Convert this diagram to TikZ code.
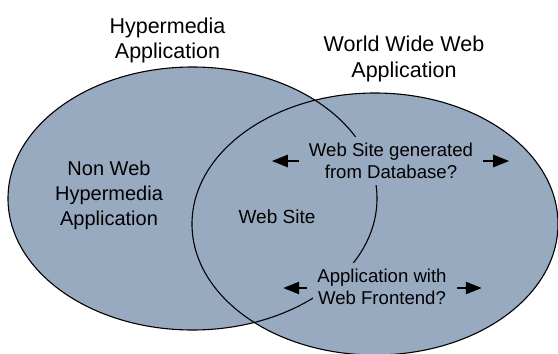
\documentclass[tikz,border=0pt]{standalone}
\usepackage{fontspec}
\setmainfont{Liberation Sans}
\usetikzlibrary{arrows.meta}
\definecolor{setfill}{RGB}{152,170,191}

\tikzset{
  setarea/.style={fill=setfill},
  setline/.style={draw=black, line width=1.1pt},
  title/.style={align=center, font=\fontsize{21.5}{25.2}\selectfont},
  inside/.style={align=center, font=\fontsize{20}{25}\selectfont},
  boxed/.style={align=center, fill=setfill, inner xsep=4pt, inner ysep=6pt,
    font=\fontsize{18.6}{21.5}\selectfont},
  moveto/.style={line width=2.5pt, -{Triangle[length=16pt,width=12pt]}}
}

\begin{document}
\begin{tikzpicture}[x=1pt,y=-1pt]
\useasboundingbox (0,0) rectangle (558,354);

% the two sets: fills first, so both outlines stay visible
\fill[setarea] (192.5,198.5) ellipse [x radius=184.5pt, y radius=131.5pt];
\fill[setarea] (375,224) ellipse [x radius=183pt, y radius=131pt];
\draw[setline] (192.5,198.5) ellipse [x radius=184.5pt, y radius=131.5pt];
\draw[setline] (375,224) ellipse [x radius=183pt, y radius=131pt];

% set titles
\node[title] (hyptitle) at (167.5,40.5) {Hypermedia\\Application};
\node[title] (wwwtitle) at (404,59) {World Wide Web\\Application};

% region labels
\node[inside] (nonweb) at (109,195.5) {Non Web\\Hypermedia\\Application};
\node[inside, font=\fontsize{19}{23}\selectfont] (website) at (277,217) {Web Site};

% border cases, masking the outline behind them
\node[boxed] (gendb) at (391,161) {Web Site generated\\from Database?};
\node[boxed] (frontend) at (382,287) {Application with\\Web Frontend?};

% arrow ends
\coordinate (gendbLtail) at ([xshift=-6pt]gendb.west);
\coordinate (gendbLtip)  at ([xshift=-33pt]gendb.west);
\coordinate (gendbRtail) at ([xshift=6pt]gendb.east);
\coordinate (gendbRtip)  at ([xshift=32pt]gendb.east);
\coordinate (frontLtail) at ([xshift=-6pt,yshift=-1pt]frontend.west);
\coordinate (frontLtip)  at ([xshift=-30pt,yshift=-1pt]frontend.west);
\coordinate (frontRtail) at ([xshift=6pt,yshift=-1pt]frontend.east);
\coordinate (frontRtip)  at ([xshift=31pt,yshift=-1pt]frontend.east);

\draw[moveto] (gendbLtail) -- (gendbLtip);
\draw[moveto] (gendbRtail) -- (gendbRtip);
\draw[moveto] (frontLtail) -- (frontLtip);
\draw[moveto] (frontRtail) -- (frontRtip);
\end{tikzpicture}
\end{document}
